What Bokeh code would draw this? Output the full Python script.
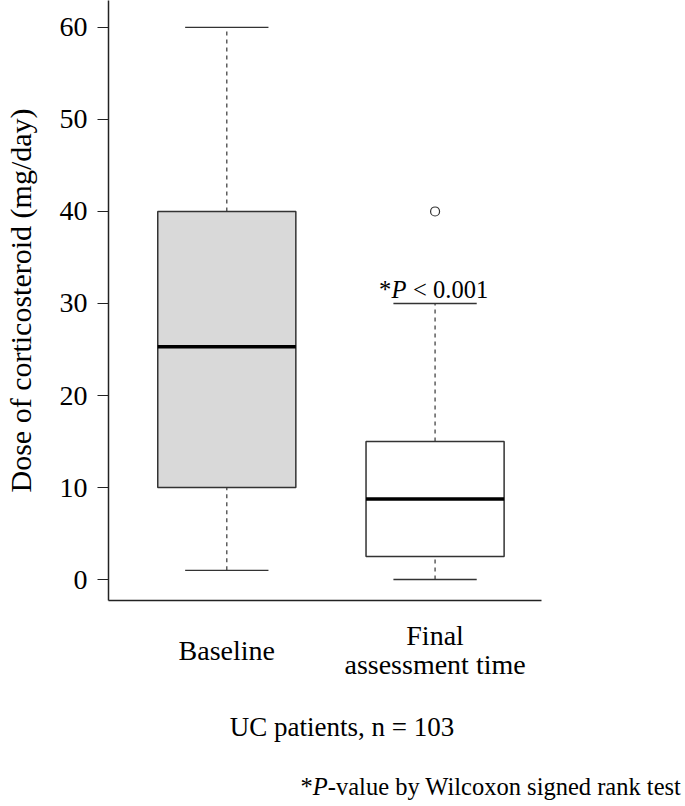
import numpy as np
from bokeh.plotting import figure
from bokeh.layouts import column
from bokeh.models import Range1d, FixedTicker, ColumnDataSource
from bokeh.core.properties import value
from bokeh.embed import file_html
from bokeh.resources import INLINE

# ---- data ----
groups = ["Baseline", "Final\nassessment time"]
group_pos = [1, 2]
whisker_low = [1, 0]
q1 = [10, 2.5]
median = [25.3, 8.75]
q3 = [40, 15]
whisker_high = [60, 30]
outlier_x = [2]
outlier_y = [40]
y_ticks = [0, 10, 20, 30, 40, 50, 60]
box_fill = ["#d9d9d9", "#ffffff"]

FONT = "Liberation Serif"
BOX_W = 0.663
CAP_W = 0.4

W = 685
LEFT, RIGHT = 108, 144
X0, X1 = 0.432, 2.511

p = figure(width=W, height=610, output_backend="svg", toolbar_location=None,
           x_range=Range1d(X0, X1), y_range=Range1d(-2.28, 62.93),
           min_border_left=LEFT, min_border_right=RIGHT, min_border_top=0,
           min_border_bottom=10)
p.outline_line_color = None
p.grid.visible = False
p.border_fill_color = "white"
p.frame_align = False

x = np.array(group_pos, dtype=float)
src = ColumnDataSource(dict(
    x=x, lo=whisker_low, q1=q1, med=median, q3=q3, hi=whisker_high,
    left=x - BOX_W / 2, right=x + BOX_W / 2,
    cl=x - CAP_W / 2, cr=x + CAP_W / 2, fill=box_fill))

# whiskers (dashed)
p.segment(x0="x", y0="q3", x1="x", y1="hi", source=src, line_color="#444444",
          line_width=1.3, line_dash="4 4")
p.segment(x0="x", y0="lo", x1="x", y1="q1", source=src, line_color="#444444",
          line_width=1.3, line_dash="4 4")
# caps
p.segment(x0="cl", y0="hi", x1="cr", y1="hi", source=src, line_color="#333333", line_width=1.3)
p.segment(x0="cl", y0="lo", x1="cr", y1="lo", source=src, line_color="#333333", line_width=1.3)
# boxes
p.vbar(x="x", width=BOX_W, bottom="q1", top="q3", source=src, fill_color="fill",
       line_color="#333333", line_width=1.5)
# medians
p.segment(x0="left", y0="med", x1="right", y1="med", source=src, line_color="black", line_width=3.5)
# outlier
p.scatter(outlier_x, outlier_y, marker="circle", size=9, fill_color="white",
          line_color="#333333", line_width=1.2)

# y axis
ya = p.yaxis[0]
ya.ticker = FixedTicker(ticks=y_ticks)
ya.minor_tick_line_color = None
ya.major_tick_out = 11
ya.major_tick_in = 0
ya.major_label_standoff = 10
ya.major_label_text_font = FONT
ya.major_label_text_font_size = "28px"
ya.major_label_text_color = "black"
ya.axis_label = "Dose of corticosteroid (mg/day)"
ya.axis_label_text_font = FONT
ya.axis_label_text_font_size = "30px"
ya.axis_label_text_font_style = "normal"
ya.axis_label_text_color = "black"
ya.axis_label_standoff = 20
ya.axis_line_color = "#222222"
ya.axis_line_width = 1.5
ya.major_tick_line_color = "#222222"

# x axis (line only; category names drawn below on the same scale)
xa = p.xaxis[0]
xa.ticker = FixedTicker(ticks=group_pos)
xa.major_label_overrides = {gp: "" for gp in group_pos}
xa.major_label_text_font_size = "1px"
xa.major_label_standoff = 0
xa.major_tick_line_color = None
xa.minor_tick_line_color = None
xa.major_tick_out = 0
xa.major_tick_in = 0
xa.axis_line_color = "#222222"
xa.axis_line_width = 1.5

def txt(fig, xv, yv, text, xo=0, size="24px", style="normal", align="left"):
    fig.text(x=[xv], y=[yv], text=[text], x_offset=xo, text_font=value(FONT),
             text_font_size=size, text_font_style=style, text_align=align,
             text_baseline="middle", text_color="black")

# "*P < 0.001" above the second group's upper cap
PY = 31.5
txt(p, group_pos[1], PY, "*", xo=-56, size="24.5px")
txt(p, group_pos[1], PY, "P", xo=-43.5, size="24.5px", style="italic")
txt(p, group_pos[1], PY, "< 0.001", xo=-22, size="24.5px")

# ---- lower panel: category names, x title, footnote ----
px = (X1 - X0) / (W - LEFT - RIGHT)   # data units per pixel
H2 = 194
q = figure(width=W, height=H2, output_backend="svg", toolbar_location=None,
           x_range=Range1d(X0 - LEFT * px, X1 + RIGHT * px), y_range=Range1d(H2, 0),
           min_border_left=0, min_border_right=0, min_border_top=0, min_border_bottom=0,
           x_axis_type=None, y_axis_type=None)
q.outline_line_color = None
q.grid.visible = False
q.frame_align = False

LINE_H = 28.5
CENTER = 39.5
for gp, g in zip(group_pos, groups):
    lines = g.split("\n")
    n = len(lines)
    for i, ln in enumerate(lines):
        yy = CENTER + (i - (n - 1) / 2) * LINE_H
        txt(q, gp, yy, ln, size="28px", align="center")

txt(q, 1.553, 116, "UC patients, n = 103", size="27px", align="center")

FX = 1.354
FY = 175.5
txt(q, FX, FY, "*", xo=0, size="24.5px")
txt(q, FX, FY, "P", xo=12.3, size="24.5px", style="italic")
txt(q, FX, FY, "-value by Wilcoxon signed rank test", xo=27.3, size="24.5px")

layout = column(p, q, spacing=0)
open("out.html", "w").write(file_html(layout, INLINE))
